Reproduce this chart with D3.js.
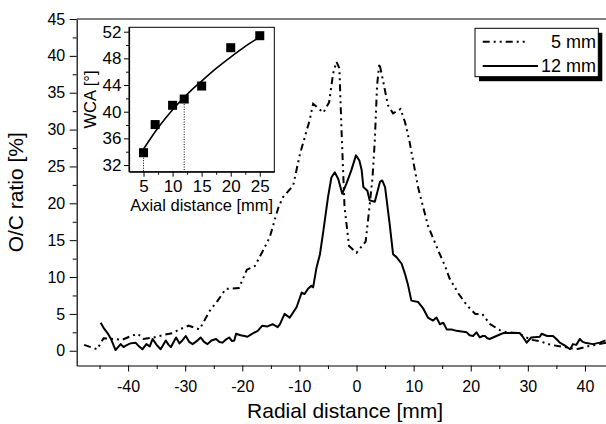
<!DOCTYPE html>
<meta charset="utf-8">
<script src="https://d3js.org/d3.v7.min.js"></script>
<style>
  body { margin: 0; background: #fff; }
  text { font-family: Arial, "Liberation Sans", sans-serif; fill: #000; }
</style>
<body>
<script>
// O/C ratio profiles, 5 mm axial distance (dash-dot-dot)
const radial5 = [-47.7, -45.4, -44.3, -42.5, -41.0, -39.5, -38.3, -37.3, -35.5, -33.5, -32.2, -31.0, -29.4, -27.5, -26.7,
  -25.8, -24.3, -22.9, -20.6, -19.2, -17.8, -16.5, -15.2, -13.7, -12.9, -11.1, -9.9, -8.2, -7.6, -5.8, -4.8, -4.1,
  -3.5, -3.0, -2.6, -2.1, -1.3, 0, 1.6, 2.2, 2.8, 3.2, 3.6, 4.0, 4.6, 5.5, 6.4, 7.7, 8.5, 9.3, 10.8, 12.5, 14.3,
  15.5, 16.3, 17.9, 19.4, 20.8, 22.0, 23.4, 25.1, 26.3, 28.3, 30.5, 32.1, 34.0, 36.5, 38.5, 40.5, 42.5, 43.8];
const oc5 = [0.8, 0.2, 1.7, 1.6, 1.5, 2.0, 2.3, 1.6, 1.8, 2.2, 2.4, 2.9, 3.4, 2.9, 4.0,
  5.3, 6.8, 8.4, 8.5, 11.0, 11.5, 13.4, 15.4, 19.4, 20.8, 22.4, 26.7, 31.3, 33.5, 32.3, 33.7, 37.6,
  39.2, 38.3, 29.4, 19.5, 14.2, 13.3, 14.8, 19.0, 23.5, 28.5, 36.0, 39.0, 36.8, 33.3, 32.2, 32.8, 31.0, 28.3, 22.1, 17.0, 13.6,
  11.5, 9.8, 7.7, 6.1, 5.0, 5.0, 3.6, 2.8, 2.5, 2.4, 1.5, 1.3, 0.8, 0.5, 0.2, 0.6, 0.9, 1.1];

// O/C ratio profiles, 12 mm axial distance (solid)
const radial12 = [-44.8, -44.2, -43.6, -43.0, -42.2, -41.3, -40.8, -40.4, -39.6, -38.7, -38.1, -37.5, -36.8, -36.2,
  -35.7, -35.0, -34.3, -33.4, -32.9, -32.5, -31.6, -31.0, -30.5, -29.9, -29.3, -28.7, -28.0, -27.3, -26.7, -26.1,
  -25.4, -24.6, -24.0, -23.5, -22.9, -22.3, -21.8, -21.4, -21.1, -20.3, -19.6, -19.1, -18.3, -17.3, -16.5, -15.6,
  -14.7, -13.8, -13.4, -12.6, -11.7, -10.5, -9.6, -9.1, -8.5, -7.9, -7.6, -7.0, -6.4, -5.8, -5.0, -4.4, -3.8, -3.2,
  -2.5, -1.75, -0.9, -0.1, 0.5, 0.9, 1.2, 1.9, 2.3, 3.2, 4.1, 4.5, 5.0, 5.8, 6.4, 7.0, 7.9, 8.5, 9.0, 9.6, 10.8,
  11.7, 12.5, 13.4, 14.0, 14.6, 15.2, 15.8, 16.6, 17.5, 18.4, 19.3, 19.8, 20.4, 21.0, 21.6, 22.1, 22.5, 22.9, 23.3,
  23.9, 24.5, 25.1, 25.7, 27.2, 28.6, 29.2, 29.8, 30.6, 32.1, 32.4, 33.4, 34.4, 35.0, 35.6, 36.5, 37.4, 37.9, 38.5,
  39.1, 39.6, 40.0, 41.4, 42.6, 43.6];
const oc12 = [3.8, 3.0, 2.4, 1.6, 0.1, 0.9, 0.5, 0.7, 1.0, 1.1, 0.6, 0.2, 0.9, 0.6,
  1.6, 0.8, 0.2, 1.4, 0.8, 0.5, 1.8, 1.0, 1.4, 2.0, 1.2, 0.9, 1.3, 1.8, 1.2, 0.9,
  1.4, 1.6, 1.2, 1.1, 1.5, 1.8, 1.3, 1.4, 2.3, 2.1, 2.0, 1.9, 2.3, 2.7, 3.4, 3.3,
  3.6, 3.2, 3.6, 5.0, 4.5, 5.9, 7.9, 7.7, 8.4, 8.8, 8.6, 11.3, 13.1, 16.3, 20.8, 23.5, 24.2, 23.3,
  21.3, 22.7, 24.5, 26.5, 25.8, 24.5, 22.2, 21.7, 20.4, 20.2, 22.9, 23.1, 22.2, 17.2, 13.1, 12.7, 11.8, 10.4, 9.0, 6.8, 6.6,
  5.7, 4.5, 4.1, 4.5, 3.6, 3.8, 2.9, 2.9, 2.7, 2.6, 2.5, 2.1, 2.0, 2.5, 1.8, 2.0, 2.0, 1.7, 1.6,
  1.8, 2.0, 2.2, 2.4, 2.4, 2.4, 1.8, 1.1, 1.8, 1.9, 2.3, 2.0, 2.0, 1.6, 1.1, 0.7, 0.2, 0.9, 0.8,
  1.6, 1.2, 1.1, 0.9, 1.1, 1.4];

// Inset: water contact angle vs axial distance
const axialDist = [5, 7, 10, 12, 15, 20, 25];
const wca = [33.85, 38.07, 40.96, 41.9, 43.85, 49.6, 51.4];
const fitDist = [5, 7.5, 10, 12.5, 15, 17.5, 20, 22.5, 25];
const fitWca = [34.4, 37.6, 40.3, 42.6, 44.6, 46.5, 48.2, 49.8, 51.2];
const markedDist = [5, 12];

// Tick values
const xTicks = [-40, -30, -20, -10, 0, 10, 20, 30, 40];
const xMinor = [-45, -35, -25, -15, -5, 5, 15, 25, 35, 45];
const yTicks = [0, 5, 10, 15, 20, 25, 30, 35, 40, 45];
const yMinor = [2.5, 7.5, 12.5, 17.5, 22.5, 27.5, 32.5, 37.5, 42.5];
const insetXTicks = [5, 10, 15, 20, 25];
const insetXMinor = [7.5, 12.5, 17.5, 22.5];
const insetYTicks = [32, 36, 40, 44, 48, 52];
const insetYMinor = [34, 38, 42, 46, 50];

const legendLabels = ["5 mm", "12 mm"];
const dashDotDot = "7,4,2,4,2,4";

const width = 606, height = 424;
const plot = {left: 76.7, right: 613.5, top: 19, bottom: 365.5};

const svg = d3.select("body").append("svg")
  .attr("width", width)
  .attr("height", height);

const x = d3.scaleLinear().domain([-49, 45]).range([plot.left, plot.right]);
const y = d3.scaleLinear().domain([-2, 45]).range([plot.bottom, plot.top]);

// frame (top and right)
svg.append("path")
  .attr("d", `M${plot.left},${plot.top}H${plot.right}V${plot.bottom}`)
  .attr("fill", "none").attr("stroke", "#000").attr("stroke-width", 1);

// axes
function styleAxis(g) {
  g.selectAll("path.domain").attr("stroke", "#000").attr("stroke-width", 1.2);
  g.selectAll(".tick line").attr("stroke", "#000").attr("stroke-width", 1);
}

svg.append("g")
  .attr("transform", `translate(0,${plot.bottom})`)
  .call(d3.axisBottom(x).tickValues(xMinor).tickSize(3.5).tickFormat("").tickSizeOuter(0))
  .call(g => g.select("path.domain").remove())
  .call(styleAxis);
svg.append("g")
  .attr("transform", `translate(0,${plot.bottom})`)
  .call(d3.axisBottom(x).tickValues(xTicks).tickSize(6).tickPadding(9.5).tickSizeOuter(0).tickFormat(d => String(d)))
  .call(styleAxis)
  .selectAll("text").attr("font-size", 16);

svg.append("g")
  .attr("transform", `translate(${plot.left},0)`)
  .call(d3.axisLeft(y).tickValues(yMinor).tickSize(4).tickFormat("").tickSizeOuter(0))
  .call(g => g.select("path.domain").remove())
  .call(styleAxis);
svg.append("g")
  .attr("transform", `translate(${plot.left},0)`)
  .call(d3.axisLeft(y).tickValues(yTicks).tickSize(7).tickPadding(4.5).tickSizeOuter(0).tickFormat(d => String(d)))
  .call(styleAxis)
  .selectAll("text").attr("font-size", 16);

// axis titles
svg.append("text")
  .attr("x", (plot.left + plot.right) / 2)
  .attr("y", 418)
  .attr("text-anchor", "middle")
  .attr("font-size", 21)
  .text("Radial distance [mm]");

svg.append("text")
  .attr("transform", `translate(23,${(plot.top + plot.bottom) / 2}) rotate(-90)`)
  .attr("text-anchor", "middle")
  .attr("font-size", 21)
  .text("O/C ratio [%]");

// curves
svg.append("clipPath").attr("id", "clip")
  .append("rect")
  .attr("x", plot.left).attr("y", plot.top)
  .attr("width", plot.right - plot.left).attr("height", plot.bottom - plot.top);

const line = d3.line().x(d => x(d[0])).y(d => y(d[1]));

svg.append("path")
  .datum(radial5.map((r, i) => [r, oc5[i]]))
  .attr("clip-path", "url(#clip)")
  .attr("d", line)
  .attr("fill", "none").attr("stroke", "#000").attr("stroke-width", 2)
  .attr("stroke-dasharray", dashDotDot);

svg.append("path")
  .datum(radial12.map((r, i) => [r, oc12[i]]))
  .attr("clip-path", "url(#clip)")
  .attr("d", line)
  .attr("fill", "none").attr("stroke", "#000").attr("stroke-width", 2)
  .attr("stroke-linejoin", "round");

// legend with drop shadow
const legend = {x: 475, y: 28.3, w: 123.3, h: 48.4};
svg.append("rect")
  .attr("x", legend.x + 4).attr("y", legend.y + 4.5)
  .attr("width", legend.w).attr("height", legend.h)
  .attr("fill", "#000");
svg.append("rect")
  .attr("x", legend.x).attr("y", legend.y)
  .attr("width", legend.w).attr("height", legend.h)
  .attr("fill", "#fff").attr("stroke", "#000").attr("stroke-width", 1);

const legendRows = [
  {label: legendLabels[0], y: 41.7, x2: 525, dash: dashDotDot, base: 47.5},
  {label: legendLabels[1], y: 66, x2: 538, dash: null, base: 71.5}
];
legendRows.forEach(r => {
  svg.append("line")
    .attr("x1", 482.7).attr("x2", r.x2)
    .attr("y1", r.y).attr("y2", r.y)
    .attr("stroke", "#000").attr("stroke-width", 2)
    .attr("stroke-dasharray", r.dash);
  svg.append("text")
    .attr("x", 596).attr("y", r.base)
    .attr("text-anchor", "end")
    .attr("font-size", 18)
    .text(r.label);
});

// ---- inset ----
const inset = {left: 129, right: 274.3, top: 27.3, bottom: 171.7};
const ix = d3.scaleLinear().domain([2.5, 27.5]).range([inset.left, inset.right]);
const iy = d3.scaleLinear().domain([31, 52.66]).range([inset.bottom, inset.top]);

svg.append("rect")
  .attr("x", inset.left).attr("y", inset.top)
  .attr("width", inset.right - inset.left).attr("height", inset.bottom - inset.top)
  .attr("fill", "#fff").attr("stroke", "#000").attr("stroke-width", 1);

svg.append("g")
  .attr("transform", `translate(0,${inset.bottom})`)
  .call(d3.axisBottom(ix).tickValues(insetXMinor).tickSize(3).tickFormat("").tickSizeOuter(0))
  .call(g => g.select("path.domain").remove())
  .call(styleAxis);
svg.append("g")
  .attr("transform", `translate(0,${inset.bottom})`)
  .call(d3.axisBottom(ix).tickValues(insetXTicks).tickSize(5).tickPadding(3).tickSizeOuter(0))
  .call(styleAxis)
  .selectAll("text").attr("font-size", 17);

svg.append("g")
  .attr("transform", `translate(${inset.left},0)`)
  .call(d3.axisLeft(iy).tickValues(insetYMinor).tickSize(3).tickFormat("").tickSizeOuter(0))
  .call(g => g.select("path.domain").remove())
  .call(styleAxis);
svg.append("g")
  .attr("transform", `translate(${inset.left},0)`)
  .call(d3.axisLeft(iy).tickValues(insetYTicks).tickSize(5).tickPadding(2.5).tickSizeOuter(0))
  .call(styleAxis)
  .selectAll("text").attr("font-size", 17);

svg.append("text")
  .attr("x", (inset.left + inset.right) / 2)
  .attr("y", 211)
  .attr("text-anchor", "middle")
  .attr("font-size", 16.5)
  .text("Axial distance [mm]");

svg.append("text")
  .attr("transform", `translate(96,${(inset.top + inset.bottom) / 2}) rotate(-90)`)
  .attr("text-anchor", "middle")
  .attr("font-size", 16.5)
  .text("WCA [°]");

// dotted drop lines
svg.selectAll(".drop")
  .data(markedDist)
  .enter().append("line")
  .attr("x1", d => ix(d)).attr("x2", d => ix(d))
  .attr("y1", d => iy(wca[axialDist.indexOf(d)]))
  .attr("y2", inset.bottom)
  .attr("stroke", "#000").attr("stroke-width", 1)
  .attr("stroke-dasharray", "1,1.5");

// fit curve
svg.append("path")
  .datum(fitDist.map((d, i) => [d, fitWca[i]]))
  .attr("d", d3.line().x(d => ix(d[0])).y(d => iy(d[1])).curve(d3.curveMonotoneX))
  .attr("fill", "none").attr("stroke", "#000").attr("stroke-width", 1.6);

// measured points
const sq = 9;
svg.selectAll(".pt")
  .data(axialDist.map((d, i) => [d, wca[i]]))
  .enter().append("rect")
  .attr("x", d => ix(d[0]) - sq / 2)
  .attr("y", d => iy(d[1]) - sq / 2)
  .attr("width", sq).attr("height", sq)
  .attr("fill", "#000");
</script>
</body>
</html>
